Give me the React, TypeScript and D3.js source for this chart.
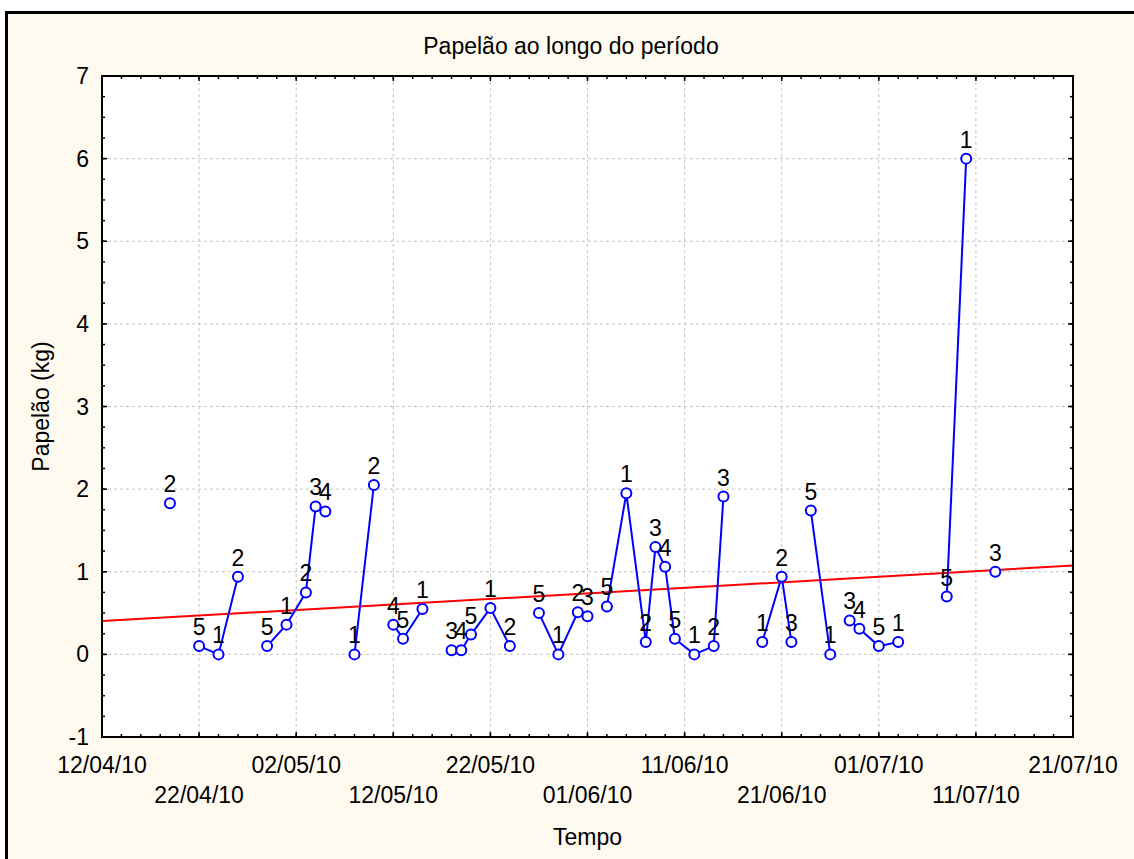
import React from "react";
import * as d3 from "d3";

const dates = [
  "2010-04-19", "2010-04-22", "2010-04-24", "2010-04-26",
  "2010-04-29", "2010-05-01", "2010-05-03", "2010-05-04", "2010-05-05",
  "2010-05-08", "2010-05-10",
  "2010-05-12", "2010-05-13", "2010-05-15",
  "2010-05-18", "2010-05-19", "2010-05-20", "2010-05-22", "2010-05-24",
  "2010-05-27", "2010-05-29", "2010-05-31", "2010-06-01",
  "2010-06-03", "2010-06-05", "2010-06-07", "2010-06-08", "2010-06-09", "2010-06-10", "2010-06-12", "2010-06-14", "2010-06-15",
  "2010-06-19", "2010-06-21", "2010-06-22",
  "2010-06-24", "2010-06-26",
  "2010-06-28", "2010-06-29", "2010-07-01", "2010-07-03",
  "2010-07-08", "2010-07-10",
  "2010-07-13",
];
const values = [
  1.83, 0.10, 0.00, 0.94,
  0.10, 0.36, 0.75, 1.79, 1.73,
  0.00, 2.05,
  0.36, 0.19, 0.55,
  0.05, 0.05, 0.24, 0.56, 0.10,
  0.50, 0.00, 0.51, 0.46,
  0.58, 1.95, 0.15, 1.30, 1.06, 0.19, 0.00, 0.10, 1.91,
  0.15, 0.94, 0.15,
  1.74, 0.00,
  0.41, 0.31, 0.10, 0.15,
  0.70, 6.00,
  1.00,
];
const pointLabels = [
  "2", "5", "1", "2",
  "5", "1", "2", "3", "4",
  "1", "2",
  "4", "5", "1",
  "3", "4", "5", "1", "2",
  "5", "1", "2", "3",
  "5", "1", "2", "3", "4", "5", "1", "2", "3",
  "1", "2", "3",
  "5", "1",
  "3", "4", "5", "1",
  "5", "1",
  "3",
];
const segments = [
  0, 1, 1, 1,
  2, 2, 2, 2, 2,
  3, 3,
  4, 4, 4,
  5, 5, 5, 5, 5,
  6, 6, 6, 6,
  7, 7, 7, 7, 7, 7, 7, 7, 7,
  8, 8, 8,
  9, 9,
  10, 10, 10, 10,
  11, 11,
  12,
];
const xTickLabels = [
  "12/04/10", "22/04/10", "02/05/10", "12/05/10", "22/05/10", "01/06/10",
  "11/06/10", "21/06/10", "01/07/10", "11/07/10", "21/07/10",
];
const yTicks = [-1, 0, 1, 2, 3, 4, 5, 6, 7];

const W = 1134;
const H = 859;
const L = 102, R = 1073, T = 76, B = 737;
const FONT = "'Liberation Sans', Arial, sans-serif";
const DAY = 86400000;

export default function App() {
  const parse = d3.utcParse("%Y-%m-%d");
  const start = parse("2010-04-12")!;
  const end = parse("2010-07-21")!;
  const x = d3.scaleUtc().domain([start, end]).range([L, R]);
  const y = d3.scaleLinear().domain([-1, 7]).range([B, T]);

  const pts = dates.map((d, i) => ({
    date: parse(d)!,
    v: values[i],
    label: pointLabels[i],
    seg: segments[i],
  }));

  const majorX = xTickLabels.map((_, i) => new Date(start.getTime() + i * 10 * DAY));
  const minorX: Date[] = [];
  for (let t = start.getTime(); t <= end.getTime(); t += 2 * DAY) minorX.push(new Date(t));
  const minorY = d3.range(-1, 7.0001, 0.25);

  // linear regression
  const xs = pts.map((p) => (p.date.getTime() - start.getTime()) / DAY);
  const ys = pts.map((p) => p.v);
  const mx = d3.mean(xs)!;
  const my = d3.mean(ys)!;
  let sxy = 0, sxx = 0;
  xs.forEach((xi, i) => {
    sxy += (xi - mx) * (ys[i] - my);
    sxx += (xi - mx) * (xi - mx);
  });
  const slope = sxy / sxx;
  const icpt = my - slope * mx;
  const totalDays = (end.getTime() - start.getTime()) / DAY;

  const groups = d3.groups(pts, (p) => p.seg);
  const line = d3
    .line<{ date: Date; v: number }>()
    .x((p) => x(p.date))
    .y((p) => y(p.v));

  return (
    <svg
      width={W}
      height={H}
      style={{ position: "absolute", left: 0, top: 0 }}
      fontFamily={FONT}
    >
      <rect x={0} y={0} width={W} height={H} fill="#ffffff" />
      <rect x={6.5} y={12.5} width={W + 20} height={H + 20} fill="#fffaf0" stroke="#000" strokeWidth={3} />
      <rect x={L} y={T} width={R - L} height={B - T} fill="#ffffff" />

      {/* grid */}
      {majorX.slice(1, -1).map((d, i) => (
        <line key={"gx" + i} x1={x(d)} x2={x(d)} y1={T} y2={B} stroke="#c4c4c4" strokeWidth={1} strokeDasharray="3,3" />
      ))}
      {yTicks.slice(1, -1).map((v) => (
        <line key={"gy" + v} x1={L} x2={R} y1={y(v)} y2={y(v)} stroke="#c4c4c4" strokeWidth={1} strokeDasharray="3,3" />
      ))}

      {/* ticks */}
      {minorX.map((d, i) => (
        <g key={"mx" + i} stroke="#000" strokeWidth={1.5}>
          <line x1={x(d)} x2={x(d)} y1={B} y2={B - 3} />
          <line x1={x(d)} x2={x(d)} y1={T} y2={T + 3} />
        </g>
      ))}
      {majorX.map((d, i) => (
        <g key={"Mx" + i} stroke="#000" strokeWidth={1.5}>
          <line x1={x(d)} x2={x(d)} y1={B} y2={B - 5} />
          <line x1={x(d)} x2={x(d)} y1={T} y2={T + 5} />
        </g>
      ))}
      {minorY.map((v, i) => (
        <g key={"my" + i} stroke="#000" strokeWidth={1.5}>
          <line x1={L} x2={L + 3} y1={y(v)} y2={y(v)} />
          <line x1={R} x2={R - 3} y1={y(v)} y2={y(v)} />
        </g>
      ))}
      {yTicks.map((v) => (
        <g key={"My" + v} stroke="#000" strokeWidth={1.5}>
          <line x1={L} x2={L + 5} y1={y(v)} y2={y(v)} />
          <line x1={R} x2={R - 5} y1={y(v)} y2={y(v)} />
        </g>
      ))}

      {/* trend line */}
      <line
        x1={x(start)}
        y1={y(icpt)}
        x2={x(end)}
        y2={y(icpt + slope * totalDays)}
        stroke="#ff0000"
        strokeWidth={2}
      />

      {/* series lines */}
      {groups.map(([k, g]) =>
        g.length > 1 ? (
          <path key={"s" + k} d={line(g) || ""} fill="none" stroke="#0000ff" strokeWidth={2} />
        ) : null
      )}

      {/* points */}
      {pts.map((p, i) => (
        <circle key={"p" + i} cx={x(p.date)} cy={y(p.v)} r={5} fill="#ffffff" stroke="#0000ff" strokeWidth={2} />
      ))}
      {pts.map((p, i) => (
        <text key={"l" + i} x={x(p.date)} y={y(p.v) - 11} fontSize={23} textAnchor="middle" fill="#000">
          {p.label}
        </text>
      ))}

      {/* frame */}
      <rect x={L} y={T} width={R - L} height={B - T} fill="none" stroke="#000" strokeWidth={2} />

      {/* axis labels */}
      {yTicks.map((v) => (
        <text key={"yl" + v} x={89} y={y(v) + 8} fontSize={23} textAnchor="end" fill="#000">
          {v}
        </text>
      ))}
      {majorX.map((d, i) => (
        <text key={"xl" + i} x={x(d)} y={i % 2 === 0 ? 773 : 803} fontSize={23} textAnchor="middle" fill="#000">
          {xTickLabels[i]}
        </text>
      ))}

      <text x={571} y={54} fontSize={23} textAnchor="middle" fill="#000">
        Papelão ao longo do período
      </text>
      <text x={(L + R) / 2} y={845} fontSize={23} textAnchor="middle" fill="#000">
        Tempo
      </text>
      <text
        transform={`translate(49, ${(T + B) / 2}) rotate(-90)`}
        fontSize={23}
        textAnchor="middle"
        fill="#000"
      >
        Papelão (kg)
      </text>
    </svg>
  );
}
